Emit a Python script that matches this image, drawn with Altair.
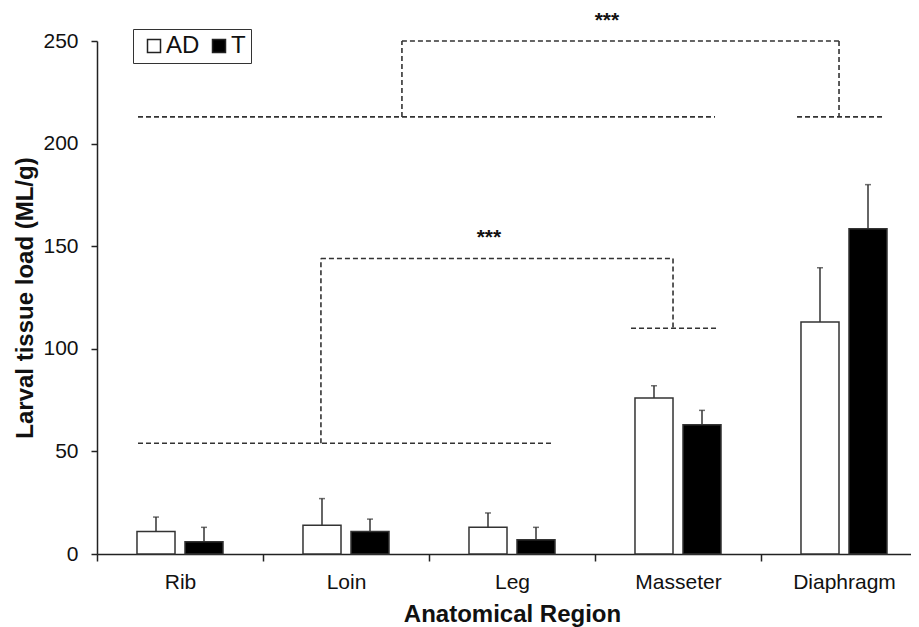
import altair as alt
import pandas as pd

# ---- data ----
regions = ["Rib", "Loin", "Leg", "Masseter", "Diaphragm"]
series = ["AD", "T"]
ad_mean = [11, 14, 13, 76, 113]
ad_sd = [7, 13, 7, 6, 26.5]
t_mean = [6, 11, 7, 63, 158.5]
t_sd = [7, 6, 6, 7, 21.5]

# significance brackets (x in category units along the axis, y in ML/g)
bracket_x = [0.247, 1.349, 1.349, 3.470, 3.217, 0.247, 1.837, 1.837, 4.470, 4.217]
bracket_x2 = [2.735, 1.349, 3.470, 3.470, 3.729, 3.723, 1.837, 4.470, 4.470, 4.735]
bracket_y = [54, 54, 144, 144, 110, 213, 213, 250, 250, 213]
bracket_y2 = [54, 144, 144, 110, 110, 213, 250, 250, 213, 213]
star_x = [2.361, 3.072]
star_y = [157, 262.7]
star_text = ["***", "***"]

FONT = "Liberation Sans"
Y_TITLE = "Larval tissue load (ML/g)"
RANGE = [0, 830]
NOVIEW = alt.ViewBackground(stroke=None, strokeWidth=0)

rows = []
for i, r in enumerate(regions):
    rows.append({"region": r, "series": "AD", "value": ad_mean[i], "upper": ad_mean[i] + ad_sd[i]})
    rows.append({"region": r, "series": "T", "value": t_mean[i], "upper": t_mean[i] + t_sd[i]})
df = pd.DataFrame(rows)

br = pd.DataFrame({"bx": bracket_x, "bx2": bracket_x2, "by": bracket_y, "by2": bracket_y2})
st = pd.DataFrame({"bx": star_x, "by": star_y, "txt": star_text})

xband = alt.Scale(range=RANGE, paddingInner=0, paddingOuter=0)
xoff = alt.Scale(domain=series, paddingInner=0.208, paddingOuter=0.833)
yscale = alt.Scale(domain=[0, 250])

x_enc = alt.X(
    "region:N", sort=regions, scale=xband,
    axis=alt.Axis(
        title="Anatomical Region", labelAngle=0, tickBand="extent",
        domain=True, ticks=True, labels=True,
        tickSize=7, tickWidth=1.5, tickColor="#222",
        domainColor="#222", domainWidth=1.5,
        labelFontSize=21, labelColor="#111", labelPadding=10, labelFont=FONT,
        titleFontSize=24, titleFontWeight="bold", titleColor="#111", titlePadding=10, titleFont=FONT,
        grid=False,
    ),
)
y_enc = alt.Y(
    "value:Q", scale=yscale,
    axis=alt.Axis(
        title=Y_TITLE, values=[0, 50, 100, 150, 200, 250], grid=False,
        domain=True, ticks=True, labels=True,
        tickSize=6, tickWidth=1.5, tickColor="#222",
        domainColor="#222", domainWidth=1.5,
        labelFontSize=21, labelColor="#111", labelPadding=13, labelFont=FONT,
        titleFontSize=24, titleFontWeight="bold", titleColor="#111", titlePadding=5, titleFont=FONT,
    ),
)

bars = alt.Chart(df).mark_bar(stroke="#333", strokeWidth=1.5).encode(
    x=x_enc,
    xOffset=alt.XOffset("series:N", sort=series, scale=xoff),
    y=y_enc,
    fill=alt.Fill(
        "series:N", sort=series,
        scale=alt.Scale(domain=series, range=["white", "black"]),
        legend=alt.Legend(
            orient="none", legendX=36, legendY=-12, direction="horizontal", title=None,
            symbolType="square", symbolSize=169, symbolStrokeColor="#222", symbolStrokeWidth=1.5,
            symbolOffset=4, labelOffset=0, columnPadding=3,
            labelFontSize=24, labelFont=FONT, labelColor="#111",
            strokeColor="#333", fillColor="white", padding=5,
        ),
    ),
)

err = alt.Chart(df).mark_rule(stroke="#333", strokeWidth=1.5).encode(
    x=alt.X("region:N", sort=regions, scale=xband),
    xOffset=alt.XOffset("series:N", sort=series, scale=xoff),
    y=alt.Y("value:Q", scale=yscale, title=Y_TITLE),
    y2="upper:Q",
)
caps = alt.Chart(df).mark_tick(color="#333", size=6, thickness=1.5).encode(
    x=alt.X("region:N", sort=regions, scale=xband),
    xOffset=alt.XOffset("series:N", sort=series, scale=xoff),
    y=alt.Y("upper:Q", scale=yscale, title=Y_TITLE),
)

main = alt.layer(bars, err, caps).properties(view=NOVIEW)

qx = alt.Scale(domain=[0, 5], range=RANGE)
brackets = alt.Chart(br).mark_rule(stroke="#333", strokeWidth=1.6, strokeDash=[5, 3]).encode(
    x=alt.X("bx:Q", scale=qx, axis=None),
    x2="bx2:Q",
    y=alt.Y("by:Q", scale=yscale, title=Y_TITLE),
    y2="by2:Q",
)
stars = alt.Chart(st).mark_text(
    font=FONT, fontSize=21, fontWeight="bold", color="#111", baseline="alphabetic", dy=12
).encode(
    x=alt.X("bx:Q", scale=qx, axis=None),
    y=alt.Y("by:Q", scale=yscale, title=Y_TITLE),
    text="txt:N",
)
overlay = alt.layer(brackets, stars).properties(view=NOVIEW)

chart = (
    alt.layer(main, overlay)
    .resolve_scale(x="independent")
    .properties(
        width=814, height=513,
        autosize=alt.AutoSizeParams(type="none"),
        padding={"left": 89, "top": 33, "right": 0, "bottom": 73},
        view=NOVIEW,
    )
    .configure_view(stroke=None, strokeWidth=0, strokeOpacity=0)
    .configure_axis(grid=False, domain=False, ticks=False, labels=False)
    .configure_axisTop(disable=True)
    .configure_axisRight(disable=True)
    .configure(font=FONT)
)

chart.save("out.html", embed_options={"renderer": "svg", "actions": False})
